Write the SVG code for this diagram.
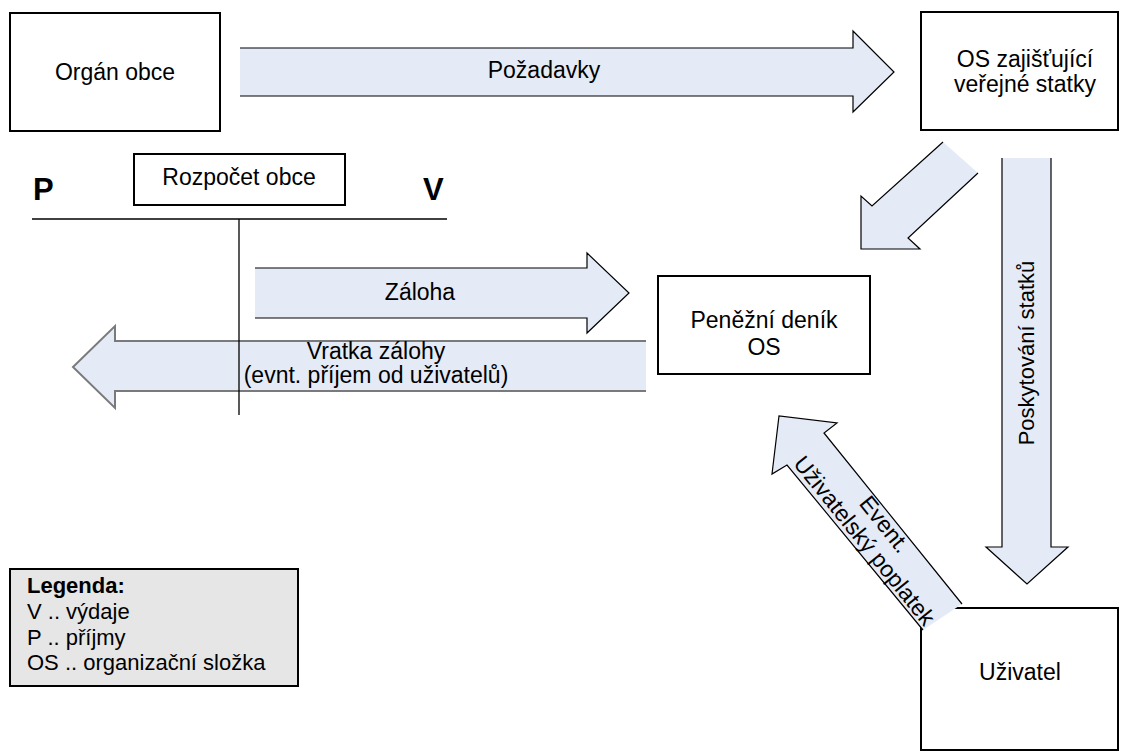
<svg xmlns="http://www.w3.org/2000/svg" width="1122" height="756" viewBox="0 0 1122 756">
  <style>
    .box { fill: #ffffff; stroke: #000000; stroke-width: 2; }
    .lbl { font-family: "Liberation Sans", Arial, sans-serif; font-size: 23px; fill: #000000; text-anchor: middle; }
    .legend { font-family: "Liberation Sans", Arial, sans-serif; font-size: 22px; fill: #000000; }
    .pv { font-family: "Liberation Sans", Arial, sans-serif; font-size: 31px; font-weight: bold; fill: #000000; }
    .arrow-fill { fill: #E5EBF6; stroke: none; }
    .arrow-edge { fill: none; stroke: #000000; stroke-width: 1.2; stroke-linejoin: miter; }
    .arrow-edge-grey { fill: none; stroke: #7a7a7a; stroke-width: 2; }
    .line { stroke: #000000; stroke-width: 1.3; fill: none; }
  </style>
  <rect width="1122" height="756" fill="#ffffff"/>

  <g id="organ-obce">
    <rect class="box" x="10" y="13" width="210" height="118"/>
    <text class="lbl" x="115" y="80">Orgán obce</text>
  </g>

  <g id="os-zajistujici">
    <rect class="box" x="921" y="12" width="197" height="118"/>
    <text class="lbl" x="1025" y="67">OS zajišťující</text>
    <text class="lbl" x="1025" y="92">veřejné statky</text>
  </g>

  <g id="penezni-denik">
    <rect class="box" x="658" y="276" width="212" height="98"/>
    <text class="lbl" x="764" y="328">Peněžní deník</text>
    <text class="lbl" x="764" y="355">OS</text>
  </g>

  <g id="uzivatel">
    <rect class="box" x="921" y="608" width="197" height="142"/>
    <text class="lbl" x="1020" y="680">Uživatel</text>
  </g>

  <g id="legenda">
    <rect x="10" y="569" width="288" height="117" fill="#E6E6E6" stroke="#000000" stroke-width="2"/>
    <text class="legend" x="27" y="593" font-weight="bold">Legenda:</text>
    <text class="legend" x="27" y="619">V .. výdaje</text>
    <text class="legend" x="27" y="645">P .. příjmy</text>
    <text class="legend" x="27" y="670">OS .. organizační složka</text>
  </g>

  <g id="connectors">
    <g id="arrow-pozadavky">
      <polygon class="arrow-fill" points="240,48 853,48 853,31 894,72 853,112 853,96 240,96"/>
      <path class="arrow-edge" d="M240,48 H853 V31 L894,72 L853,112 V96 H240"/>
      <text class="lbl" x="544" y="78">Požadavky</text>
    </g>
    <g id="arrow-os-denik">
      <polygon class="arrow-fill" points="943,142 872,206 861,196 861,249 920,249 908,238 978,173"/>
      <path class="arrow-edge" d="M943,142 L872,206 L861,196 V249 H920 L908,238 L978,173"/>
    </g>
    <g id="arrow-poskytovani">
      <polygon class="arrow-fill" points="1002,158 1002,547 986,547 1027,584 1068,547 1051,547 1051,158"/>
      <path class="arrow-edge" d="M1002,158 V547 H986 L1027,584 L1068,547 H1051 V158"/>
      <text class="lbl" transform="translate(1034,353) rotate(-90)" x="0" y="0" style="font-size:22px">Poskytování statků</text>
    </g>
    <g id="arrow-zaloha">
      <polygon class="arrow-fill" points="255,268 587,268 587,253 629,293 587,333 587,318 255,318"/>
      <path class="arrow-edge" d="M255,268 H587 V253 L629,293 L587,333 V318 H255"/>
      <text class="lbl" x="420" y="300">Záloha</text>
    </g>
    <g id="arrow-vratka">
      <polygon class="arrow-fill" points="646,341 115,341 115,326 73,367 115,408 115,391 646,391"/>
      <path class="arrow-edge-grey" d="M646,341 H115 V326 L73,367 L115,408 V391 H646"/>
      <text class="lbl" x="376" y="359">Vratka zálohy</text>
      <text class="lbl" x="376" y="383">(evnt. příjem od uživatelů)</text>
    </g>
    <g id="arrow-poplatek">
      <polygon class="arrow-fill" points="962,604 824,433 837,423 779,416 772,474 787,465 923,630"/>
      <path class="arrow-edge" d="M962,604 L824,433 L837,423 L779,416 L772,474 L787,465 L923,630"/>
      <g transform="translate(874,533) rotate(51.1)">
        <text class="lbl" x="0" y="-6">Event.</text>
        <text class="lbl" x="0" y="20">Uživatelský poplatek</text>
      </g>
    </g>
  </g>

  <g id="rozpocet-obce">
    <line class="line" x1="32" y1="219" x2="447" y2="219"/>
    <line class="line" x1="239" y1="219" x2="239" y2="415"/>
    <rect class="box" x="134" y="154" width="211" height="51"/>
    <text class="lbl" x="239" y="185">Rozpočet obce</text>
    <text class="pv" x="33" y="200">P</text>
    <text class="pv" x="423" y="200">V</text>
  </g>
</svg>
